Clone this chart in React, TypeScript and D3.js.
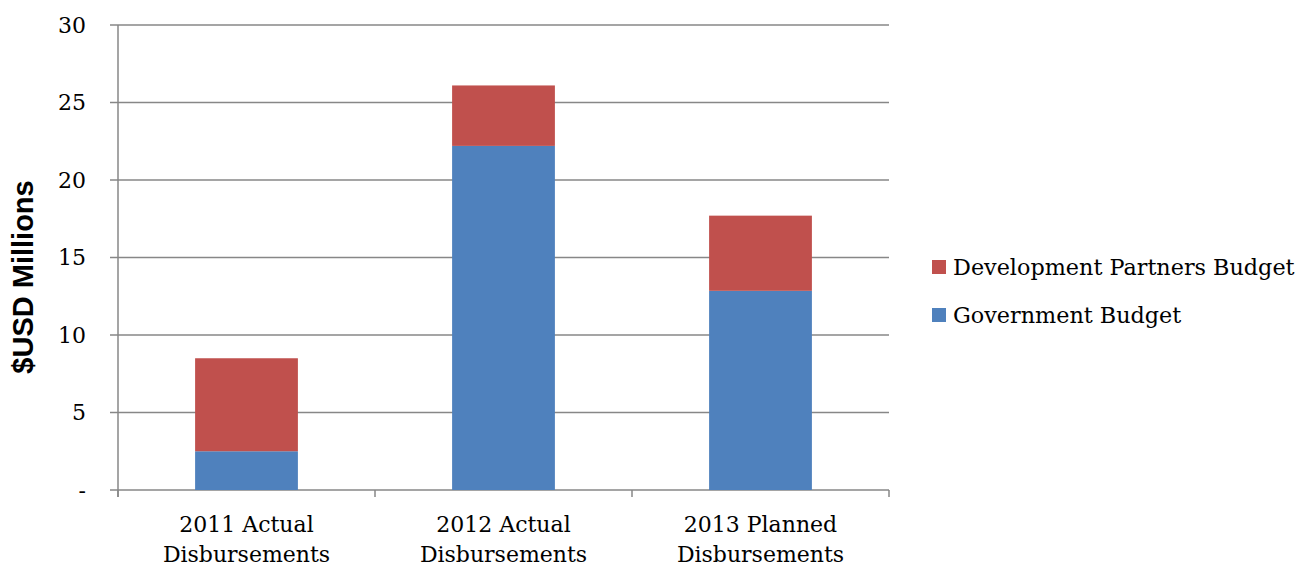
import React from "react";
import * as d3 from "d3";

const categories = ["2011 Actual|Disbursements", "2012 Actual|Disbursements", "2013 Planned|Disbursements"];
const governmentBudget = [2.5, 22.2, 12.85];
const partnersBudget = [6.0, 3.9, 4.85];
const yTicks = [0, 5, 10, 15, 20, 25, 30];
const seriesNames = ["Government Budget", "Development Partners Budget"];
const colors = ["#4F81BD", "#C0504D"];

export default function App() {
  const W = 1299, H = 567;
  const left = 118, right = 889, top = 25, bottom = 490;
  const x = d3.scaleBand().domain(categories).range([left, right]).paddingInner(0.6).paddingOuter(0.3);
  const xb = d3.scaleBand().domain(categories).range([left, right]);
  const y = d3.scaleLinear().domain([0, 30]).range([bottom, top]);
  const rows = categories.map((c, i) => ({ c, g: governmentBudget[i], p: partnersBudget[i] }));
  const stack = d3.stack<any>().keys(["g", "p"])(rows);
  const serif = "'DejaVu Serif', serif";
  const axisColor = "#878787";
  return (
    <svg width={W} height={H} style={{ position: "absolute", left: 0, top: 0 }}>
      <rect width={W} height={H} fill="#fff" />
      {yTicks.map((t) => (
        <g key={t}>
          <line x1={110} x2={right} y1={y(t)} y2={y(t)} stroke={axisColor} strokeWidth={1.5} />
          <text x={86} y={y(t)} dy="0.36em" textAnchor="end" fontFamily={serif} fontSize={22} fill="#000">
            {t === 0 ? "-" : t}
          </text>
        </g>
      ))}
      <line x1={left} x2={left} y1={top} y2={bottom + 7} stroke={axisColor} strokeWidth={1.5} />
      {[...categories.map((c) => xb(c)!), right].map((px, i) => (
        <line key={i} x1={px} x2={px} y1={bottom} y2={bottom + 7} stroke={axisColor} strokeWidth={1.5} />
      ))}
      {stack.map((s, si) => (
        <g key={si} fill={colors[si]}>
          {s.map((d, i) => (
            <rect key={i} x={x(categories[i])} width={x.bandwidth()} y={y(d[1])} height={y(d[0]) - y(d[1])} />
          ))}
        </g>
      ))}
      {categories.map((c) => {
        const [l1, l2] = c.split("|");
        const cx = x(c)! + x.bandwidth() / 2;
        return (
          <text key={c} x={cx} textAnchor="middle" fontFamily={serif} fontSize={22} fill="#000">
            <tspan x={cx} y={532}>{l1}</tspan>
            <tspan x={cx} y={562}>{l2}</tspan>
          </text>
        );
      })}
      <text transform="translate(33,277) rotate(-90)" textAnchor="middle" fontFamily="'Liberation Sans', Arial, sans-serif" fontWeight="bold" fontSize={29} fill="#000">
        $USD Millions
      </text>
      {[1, 0].map((si, k) => (
        <g key={si}>
          <rect x={932} y={260 + k * 48} width={14} height={14} fill={colors[si]} />
          <text x={953} y={267 + k * 48} dy="0.36em" fontFamily={serif} fontSize={22.3} fill="#000">
            {seriesNames[si]}
          </text>
        </g>
      ))}
    </svg>
  );
}
